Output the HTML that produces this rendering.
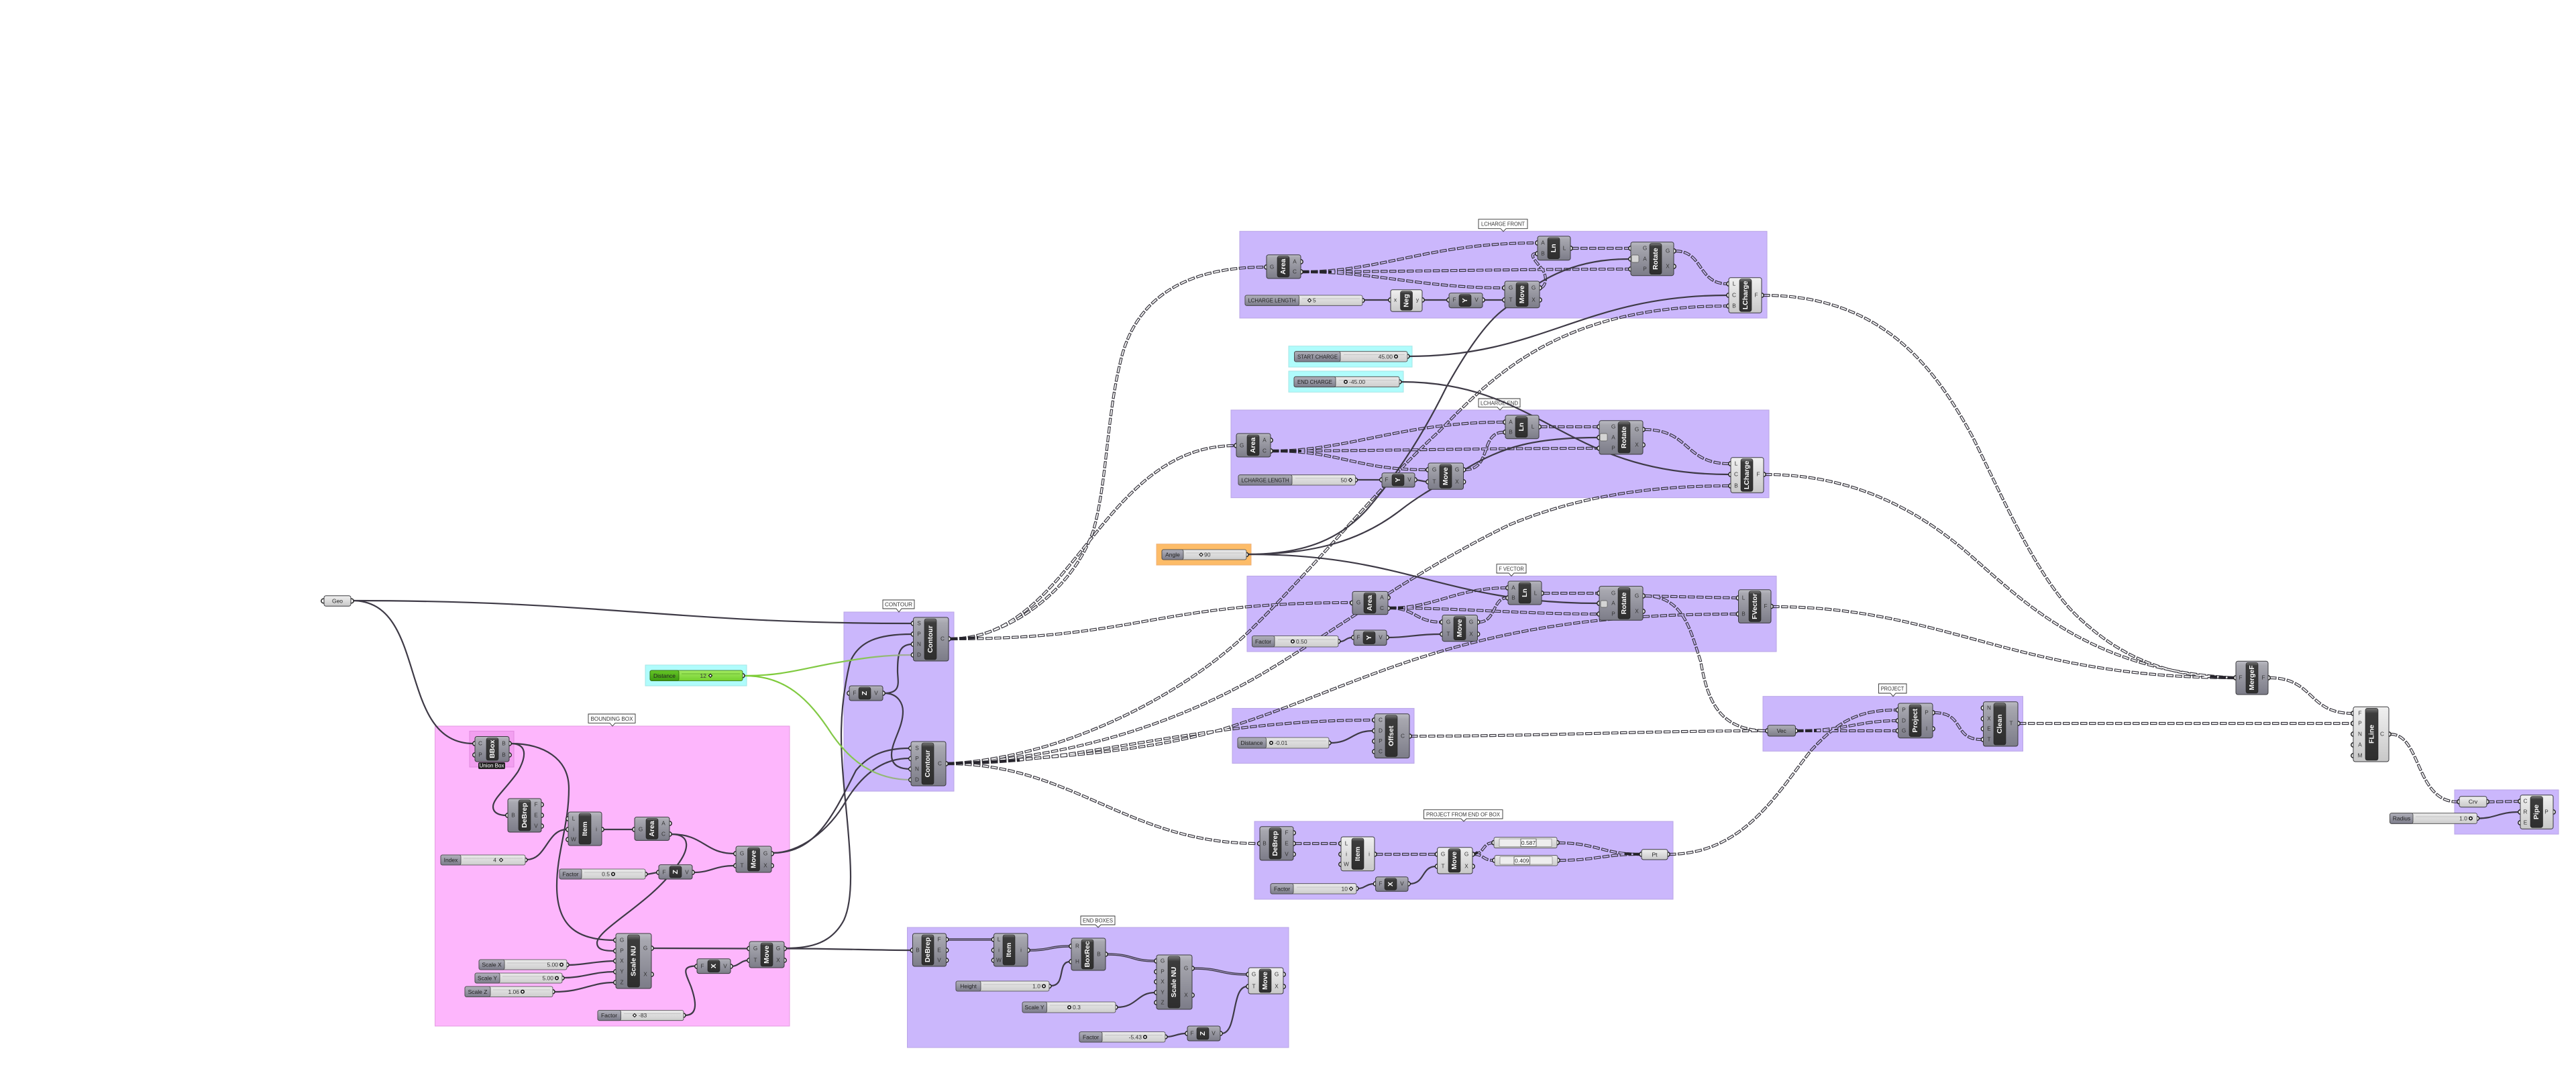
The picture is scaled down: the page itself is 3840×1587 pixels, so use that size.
<!DOCTYPE html>
<html><head><meta charset="utf-8"><title>Grasshopper definition</title>
<style>
html,body{margin:0;padding:0;background:#fff}
svg{display:block}
text{font-family:"Liberation Sans",sans-serif}
.pu{fill:#cbb7fc;stroke:#b9a5e6;stroke-width:1}
.pk{fill:#fdb6fc;stroke:#e39be0;stroke-width:1}
.pd{fill:#f29ff0;stroke:#e08ade;stroke-width:1}
.cy{fill:#b0fcfc;stroke:#a5e6e6;stroke-width:1}
.or{fill:#fdbc68;stroke:#eeb078;stroke-width:1}
.n{fill:url(#gn);stroke:#3a3a3e;stroke-width:1}
.nl{fill:url(#gl);stroke:#3a3a3e;stroke-width:1}
.c{fill:url(#gc);stroke:#222;stroke-width:.6}
.t{fill:#fff;font-size:10.5px;font-weight:700;text-anchor:middle;dominant-baseline:central}
.l{fill:#333;font-size:8.2px;text-anchor:middle;dominant-baseline:central}
.v{fill:#333;font-size:8.5px;dominant-baseline:central}
.vm{fill:#222;font-size:8.5px;text-anchor:middle;dominant-baseline:central}
.p{fill:#fff;stroke:#222;stroke-width:1.5}
.sb{fill:url(#gb);stroke:#444;stroke-width:.8}
.sl{fill:url(#gs);stroke:#444;stroke-width:.8}
.gb{fill:url(#gg);stroke:#2f6a10;stroke-width:.8}
.gl{fill:url(#gd);stroke:#2f6a10;stroke-width:.8}
.tk{stroke:#bbb;stroke-width:.7;fill:none}
.k{fill:#fff;stroke:#111;stroke-width:1.6}
.d{fill:#fff;stroke:#111;stroke-width:1.1}
.cb{fill:#fff;stroke:#333;stroke-width:.9}
.ct{fill:#333;font-size:8.5px;text-anchor:middle;dominant-baseline:central}
.ic{fill:#d4d4d4;stroke:#555;stroke-width:.7}
#tw path,#sw path,#lw path{fill:none}
</style></head><body>
<svg xmlns="http://www.w3.org/2000/svg" width="3840" height="1587" viewBox="0 0 3840 1587">
<defs>
<linearGradient id="gn" x1="0" y1="0" x2="0" y2="1"><stop offset="0" stop-color="#bcbcc4"/><stop offset=".12" stop-color="#a8a8b0"/><stop offset="1" stop-color="#7c7c88"/></linearGradient>
<linearGradient id="gl" x1="0" y1="0" x2="0" y2="1"><stop offset="0" stop-color="#f0f0f0"/><stop offset="1" stop-color="#c8c8c8"/></linearGradient>
<linearGradient id="gb" x1="0" y1="0" x2="0" y2="1"><stop offset="0" stop-color="#eaeaea"/><stop offset="1" stop-color="#cdcdcd"/></linearGradient>
<linearGradient id="gc" x1="0" y1="0" x2="0" y2="1"><stop offset="0" stop-color="#777"/><stop offset=".1" stop-color="#3c3c3c"/><stop offset="1" stop-color="#2e2e2e"/></linearGradient>
<linearGradient id="gs" x1="0" y1="0" x2="0" y2="1"><stop offset="0" stop-color="#b0b0ba"/><stop offset="1" stop-color="#7c7c8a"/></linearGradient>
<linearGradient id="gg" x1="0" y1="0" x2="0" y2="1"><stop offset="0" stop-color="#a2ea62"/><stop offset="1" stop-color="#74d02e"/></linearGradient>
<linearGradient id="gd" x1="0" y1="0" x2="0" y2="1"><stop offset="0" stop-color="#66c626"/><stop offset="1" stop-color="#3c9a10"/></linearGradient>
<linearGradient id="gw" gradientUnits="userSpaceOnUse" x1="1110" y1="0" x2="1358" y2="0"><stop offset="0" stop-color="#7ccc34"/><stop offset=".7" stop-color="#86c850"/><stop offset="1" stop-color="#a3a8a0"/></linearGradient>
<g id="tw">
<path d="M1417 952C1500 952 1600 880 1630 790C1650 720 1650 620 1670 540C1690 450 1760 398 1886 398"/>
<path d="M1417 952C1600 952 1640 664 1841 664"/>
<path d="M1417 952C1700 952 1720 898 2014 898"/>
<path d="M1412 1138C1580 1130 1760 1040 1865 938C1960 845 2060 720 2145 643C2230 555 2330 456 2575 456"/>
<path d="M1412 1138C1600 1130 1760 1075 1880 1005C1990 940 2110 850 2250 782C2340 745 2440 724 2577 724"/>
<path d="M1412 1138C1560 1130 1720 1120 1834 1083C1960 1043 2060 990 2210 954C2310 930 2420 915 2589 915"/>
<path d="M1412 1138C1620 1138 1780 1073 2047 1073"/>
<path d="M1412 1138C1600 1138 1680 1257 1876 1257"/>
<path d="M1941 405C2060 405 2130 362 2290 362"/>
<path d="M1941 405C2100 405 2250 401 2429 401"/>
<path d="M1941 405C2050 405 2120 429 2241 429"/>
<path d="M2297 429C2306 425 2306 410 2298 400C2285 385 2280 378 2290 378"/>
<path d="M2343 370L2429 370"/>
<path d="M2497 374C2540 374 2530 423 2575 423"/>
<path d="M1896 672C2010 672 2090 629 2242 629"/>
<path d="M1896 672C2050 672 2200 668 2382 668"/>
<path d="M1896 672C2000 672 2020 700 2127 700"/>
<path d="M2183 700C2225 700 2205 644 2242 644"/>
<path d="M2296 636L2382 636"/>
<path d="M2451 640C2520 640 2510 691 2578 691"/>
<path d="M2071 906C2140 906 2170 876 2246 876"/>
<path d="M2071 906C2180 906 2270 915 2382 915"/>
<path d="M2071 906C2110 906 2110 927 2148 927"/>
<path d="M2204 927C2230 927 2225 891 2246 891"/>
<path d="M2300 884L2382 884"/>
<path d="M2451 888L2589 891"/>
<path d="M2452 888C2510 888 2520 940 2535 985C2545 1040 2560 1089 2634 1089"/>
<path d="M2103 1097C2300 1097 2450 1089 2633 1089"/>
<path d="M1930 1257L1997 1257"/>
<path d="M2051 1273L2141 1273"/>
<path d="M2197 1273C2212 1273 2210 1256 2225 1256"/>
<path d="M2197 1273C2212 1273 2210 1282 2226 1282"/>
<path d="M2323 1256C2380 1256 2390 1273 2445 1273"/>
<path d="M2324 1282C2380 1282 2390 1273 2445 1273"/>
<path d="M2488 1273C2600 1273 2650 1180 2700 1118C2740 1075 2770 1058 2827 1058"/>
<path d="M2678 1089C2750 1089 2770 1074 2827 1074"/>
<path d="M2678 1089L2827 1089"/>
<path d="M2883 1062C2930 1062 2910 1102 2954 1102"/>
<path d="M3010 1078L3506 1078"/>
<path d="M2628 440C2800 440 2880 540 2940 650C2990 750 3040 870 3105 926C3170 985 3240 1009 3331 1010"/>
<path d="M2631 707C2750 707 2850 750 2940 830C3020 900 3120 1000 3331 1010"/>
<path d="M2642 904C2900 904 3000 1010 3331 1010"/>
<path d="M3383 1010C3450 1010 3440 1063 3506 1063"/>
<path d="M3563 1094C3610 1094 3600 1195 3664 1195"/>
<path d="M3708 1195L3755 1194"/>
</g>
<g id="lw">
<path d="M1412 1400L1480 1400"/>
<path d="M1534 1416C1565 1416 1565 1410 1595 1410"/>
<path d="M1650 1422C1690 1422 1685 1432 1722 1432"/>
<path d="M1779 1443C1820 1443 1820 1452 1859 1452"/>
</g>
<mask id="tm" maskUnits="userSpaceOnUse" x="0" y="0" width="3840" height="1587">
<rect width="3840" height="1587" fill="#fff"/>
<use href="#tw" stroke="#000" stroke-width="1.8" stroke-dasharray="8.2 4.8" stroke-dashoffset="-1.15"/>
</mask>
</defs>
<rect width="3840" height="1587" fill="#fff"/>

<!-- groups -->
<rect class="pk" x="648.5" y="1082" width="528.5" height="447"/>
<rect class="pd" x="700" y="1089.5" width="66" height="53.5"/>
<rect class="cy" x="962" y="991" width="151" height="31"/>
<rect class="pu" x="1258" y="912" width="164" height="267"/>
<rect class="pu" x="1352.5" y="1382" width="568.5" height="179"/>
<rect class="pu" x="1848" y="344.7" width="786" height="129.3"/>
<rect class="cy" x="1921" y="515.7" width="184" height="31.3"/>
<rect class="cy" x="1921" y="553" width="171" height="31.3"/>
<rect class="pu" x="1835" y="611" width="802" height="130.7"/>
<rect class="or" x="1724" y="810.7" width="141" height="31.3"/>
<rect class="pu" x="1859" y="858.4" width="789" height="112.6"/>
<rect class="pu" x="1837" y="1055.6" width="271" height="81.8"/>
<rect class="pu" x="1870" y="1224" width="624" height="116"/>
<rect class="pu" x="2628" y="1037.7" width="387.5" height="81.6"/>
<rect class="pu" x="3659" y="1177" width="155" height="66"/>

<!-- callouts -->
<g>
<path class="cb" d="M877 1064H947V1077.4H917L913 1082L909 1077.4H877Z"/><text class="ct" x="912" y="1071" textLength="63" lengthAdjust="spacingAndGlyphs">BOUNDING BOX</text>
<path class="cb" d="M1316 894H1363V907H1344L1340 912L1336 907H1316Z"/><text class="ct" x="1339.5" y="900.7" textLength="41" lengthAdjust="spacingAndGlyphs">CONTOUR</text>
<path class="cb" d="M1611 1365H1662V1378H1641L1637 1382L1633 1378H1611Z"/><text class="ct" x="1636.5" y="1371.7" textLength="45" lengthAdjust="spacingAndGlyphs">END BOXES</text>
<path class="cb" d="M2204 326.7H2277V340.7H2245L2241 345L2237 340.7H2204Z"/><text class="ct" x="2240.5" y="333.7" textLength="65" lengthAdjust="spacingAndGlyphs">LCHARGE FRONT</text>
<path class="cb" d="M2204 594H2266V606.7H2240L2236 611L2232 606.7H2204Z"/><text class="ct" x="2235" y="600.5" textLength="56" lengthAdjust="spacingAndGlyphs">LCHARGE END</text>
<path class="cb" d="M2231 840.7H2275V854H2257L2253 858.4L2249 854H2231Z"/><text class="ct" x="2253" y="847.4" textLength="37.5" lengthAdjust="spacingAndGlyphs">F VECTOR</text>
<path class="cb" d="M2122.5 1206.7H2240V1220H2186L2182 1224L2178 1220H2122.5Z"/><text class="ct" x="2181" y="1213.5" textLength="110" lengthAdjust="spacingAndGlyphs">PROJECT FROM END OF BOX</text>
<path class="cb" d="M2800.5 1019H2842V1033H2826L2822 1037.7L2818 1033H2800.5Z"/><text class="ct" x="2821" y="1026" textLength="34.5" lengthAdjust="spacingAndGlyphs">PROJECT</text>
</g>

<!-- wires -->
<g fill="none" stroke="#3e3a46" stroke-width="2.2" stroke-linecap="round">
<path d="M525 895C900 895 1000 929 1359 929"/>
<path d="M525 895C640 895 590 1108 706 1108"/>
<path d="M761 1108C785 1108 786 1125 772 1150C755 1175 735 1190 735 1202C735 1212 745 1215 755 1215"/>
<path d="M761 1108C810 1108 848 1130 848 1175C848 1230 830 1270 830 1320C830 1380 860 1401 916 1401"/>
<path d="M785 1281C815 1281 815 1236 845 1236"/>
<path d="M899 1236L944 1236"/>
<path d="M1000 1243C1050 1243 1050 1272 1095 1272"/>
<path d="M1000 1243C1030 1243 1030 1265 1005 1295C970 1345 890 1385 890 1405C890 1415 900 1417 916 1417"/>
<path d="M964 1303L980 1300"/>
<path d="M1034 1300C1060 1300 1065 1290 1095 1290"/>
<path d="M973 1413L1115 1413.5"/>
<path d="M847 1438C870 1438 890 1432 916 1432"/>
<path d="M840 1457C870 1457 885 1448 916 1448"/>
<path d="M826 1478C870 1478 880 1464 916 1464"/>
<path d="M1021 1513C1042 1513 1037 1490 1030 1470C1022 1450 1015 1440 1037 1439.5"/>
<path d="M1091 1440C1100 1440 1105 1431 1115 1431"/>
<path d="M1152 1271C1215 1271 1240 1219 1276 1148C1295 1125 1320 1115 1355 1115"/>
<path d="M1152 1271C1190 1271 1235 1240 1262 1192C1285 1155 1315 1130 1355 1130"/>
<path d="M1171 1413C1210 1413 1240 1405 1258 1371C1272 1340 1270 1290 1260 1192C1252 1110 1250 1060 1267 987C1280 955 1310 945 1359 945"/>
<path d="M1171 1413.5C1250 1413.5 1300 1416 1358 1416"/>
<path d="M1318 1033C1345 1033 1338 1015 1338 1000C1338 975 1340 960 1360 960"/>
<path d="M1318 1033C1340 1033 1346 1050 1346 1060C1346 1085 1329 1105 1329 1125C1329 1140 1340 1146 1358 1146"/>
<path d="M1566 1469C1590 1469 1575 1433 1595 1433"/>
<path d="M1665 1501C1695 1501 1695 1479 1722 1479"/>
<path d="M1739 1545C1750 1545 1755 1540 1768 1540"/>
<path d="M1821 1540C1845 1540 1835 1470 1859 1470"/>
<path d="M2033 447L2071 447"/>
<path d="M2122 447L2158 447"/>
<path d="M2212 447L2241 447"/>
<path d="M2022 715L2058 715"/>
<path d="M2111 715L2127 718"/>
<path d="M1860 826C1950 826 2000 800 2037 760C2085 705 2125 640 2156 577C2185 525 2215 480 2243 460C2290 420 2340 386 2427 386"/>
<path d="M1860 826C1960 826 2030 805 2088 760C2120 735 2150 720 2183 700C2240 665 2290 652 2382 652"/>
<path d="M1860 826C2100 826 2150 899 2382 899"/>
<path d="M2100 531C2300 531 2360 440 2575 440"/>
<path d="M2088 569C2300 569 2330 707 2578 707"/>
<path d="M1997 956C2006 956 2006 950 2016 950"/>
<path d="M2069 950C2100 950 2110 945 2148 945"/>
<path d="M1983 1107C2015 1107 2015 1089 2047 1089"/>
<path d="M2024 1324C2035 1324 2036 1317 2049 1317"/>
<path d="M2101 1317C2125 1317 2118 1291 2141 1291"/>
<path d="M3694 1219.5C3720 1219.5 3725 1210 3755 1210"/>
</g>
<g fill="none" stroke="url(#gw)" stroke-width="2.2">
<path d="M1110 1007C1170 1007 1200 995 1250 987C1290 980 1320 976 1358 976"/>
<path d="M1110 1007C1170 1007 1205 1040 1240 1094C1265 1130 1300 1162 1358 1162"/>
</g>
<use href="#lw" stroke="#3e3a46" stroke-width="3.6"/>
<use href="#lw" stroke="#a797cc" stroke-width="1.1"/>
<g mask="url(#tm)"><use href="#tw" stroke="#3a3840" stroke-width="4.2" stroke-dasharray="10.5 2.5"/></g>
<!-- bundled starts of overlapping tree wires -->
<g fill="none" stroke="#26242c" stroke-width="4" stroke-dasharray="10.5 2.5">
<path d="M1417 952L1458 950"/>
<path d="M1412 1138L1520 1133"/>
<path d="M1941 405L1985 405"/>
<path d="M1896 672L1940 672"/>
<path d="M2071 906L2092 906"/>
<path d="M3331 1010L3292 1008"/>
<path d="M2678 1089L2708 1089"/>
<path d="M2197 1273L2203 1270"/>
<path d="M2445 1273L2420 1272"/>
</g>

<!-- ports -->
<g class="ports">
<g fill="#fff" stroke="#222" stroke-width="1.5">
<circle cx="482" cy="895.5" r="3.2"/><circle cx="524" cy="895.5" r="3.2"/>
<circle cx="708" cy="1108" r="3.2"/><circle cx="708" cy="1125" r="3.2"/><circle cx="759" cy="1108" r="3.2"/><circle cx="759" cy="1125" r="3.2"/>
<circle cx="757" cy="1215" r="3.2"/><circle cx="807" cy="1199" r="3.2"/><circle cx="807" cy="1215" r="3.2"/><circle cx="807" cy="1231" r="3.2"/>
<circle cx="847" cy="1220" r="3.2"/><circle cx="847" cy="1236" r="3.2"/><circle cx="847" cy="1251" r="3.2"/><circle cx="897" cy="1236" r="3.2"/>
<circle cx="946" cy="1236" r="3.2"/><circle cx="998" cy="1227" r="3.2"/><circle cx="998" cy="1243" r="3.2"/>
<circle cx="1097" cy="1272" r="3.2"/><circle cx="1097" cy="1290" r="3.2"/><circle cx="1150" cy="1272" r="3.2"/><circle cx="1150" cy="1290" r="3.2"/>
<circle cx="982" cy="1300" r="3.2"/><circle cx="1032" cy="1300" r="3.2"/>
<circle cx="918" cy="1401" r="3.2"/><circle cx="918" cy="1417" r="3.2"/><circle cx="918" cy="1432" r="3.2"/><circle cx="918" cy="1448" r="3.2"/><circle cx="918" cy="1464" r="3.2"/><circle cx="971" cy="1413" r="3.2"/><circle cx="971" cy="1452" r="3.2"/>
<circle cx="1117" cy="1413.5" r="3.2"/><circle cx="1117" cy="1431" r="3.2"/><circle cx="1169" cy="1413.5" r="3.2"/><circle cx="1169" cy="1431" r="3.2"/>
<circle cx="1039" cy="1440" r="3.2"/><circle cx="1089" cy="1440" r="3.2"/>
<circle cx="783" cy="1281.5" r="3"/><circle cx="962" cy="1302.6" r="3"/><circle cx="845" cy="1437.7" r="3"/><circle cx="838" cy="1457.4" r="3"/><circle cx="824" cy="1477.8" r="3"/><circle cx="1019" cy="1513" r="3"/><circle cx="1107" cy="1006.8" r="3"/>
<circle cx="1361.5" cy="929" r="3.2"/><circle cx="1361.5" cy="945" r="3.2"/><circle cx="1361.5" cy="960" r="3.2"/><circle cx="1361.5" cy="976" r="3.2"/><circle cx="1414" cy="952" r="3.2"/>
<circle cx="1266" cy="1033" r="3.2"/><circle cx="1316" cy="1033" r="3.2"/>
<circle cx="1358" cy="1115" r="3.2"/><circle cx="1358" cy="1130.5" r="3.2"/><circle cx="1358" cy="1146" r="3.2"/><circle cx="1358" cy="1162" r="3.2"/><circle cx="1410" cy="1138" r="3.2"/>
<circle cx="1360.5" cy="1416" r="3.2"/><circle cx="1410.5" cy="1400" r="3.2"/><circle cx="1410.5" cy="1416" r="3.2"/><circle cx="1410.5" cy="1431" r="3.2"/>
<circle cx="1481.5" cy="1400" r="3.2"/><circle cx="1481.5" cy="1416" r="3.2"/><circle cx="1481.5" cy="1431" r="3.2"/><circle cx="1532" cy="1416" r="3.2"/>
<circle cx="1597" cy="1410" r="3.2"/><circle cx="1597" cy="1433" r="3.2"/><circle cx="1648" cy="1422" r="3.2"/>
<circle cx="1724" cy="1432" r="3.2"/><circle cx="1724" cy="1448" r="3.2"/><circle cx="1724" cy="1463" r="3.2"/><circle cx="1724" cy="1479" r="3.2"/><circle cx="1724" cy="1494" r="3.2"/><circle cx="1777" cy="1443" r="3.2"/><circle cx="1777" cy="1483" r="3.2"/>
<circle cx="1861" cy="1452" r="3.2"/><circle cx="1861" cy="1470" r="3.2"/><circle cx="1913" cy="1452" r="3.2"/><circle cx="1913" cy="1470" r="3.2"/>
<circle cx="1770" cy="1540" r="3.2"/><circle cx="1819" cy="1540" r="3.2"/>
<circle cx="1564" cy="1469.5" r="3"/><circle cx="1663" cy="1501" r="3"/><circle cx="1737" cy="1545" r="3"/>
<circle cx="1888" cy="398" r="3.2"/><circle cx="1939" cy="390" r="3.2"/><circle cx="1939" cy="405" r="3.2"/>
<circle cx="2292" cy="362" r="3.2"/><circle cx="2292" cy="378" r="3.2"/><circle cx="2341" cy="370" r="3.2"/>
<circle cx="2431" cy="370" r="3.2"/><circle cx="2431" cy="386" r="3.2"/><circle cx="2431" cy="401" r="3.2"/><circle cx="2495" cy="374" r="3.2"/><circle cx="2495" cy="397" r="3.2"/>
<circle cx="2243" cy="429" r="3.2"/><circle cx="2243" cy="447" r="3.2"/><circle cx="2295" cy="429" r="3.2"/><circle cx="2295" cy="447" r="3.2"/>
<circle cx="2073" cy="447" r="3.2"/><circle cx="2120" cy="447" r="3.2"/><circle cx="2160" cy="447" r="3.2"/><circle cx="2210" cy="447" r="3.2"/>
<circle cx="2577" cy="423" r="3.2"/><circle cx="2577" cy="440" r="3.2"/><circle cx="2577" cy="456" r="3.2"/><circle cx="2626" cy="440" r="3.2"/>
<circle cx="2031" cy="447.6" r="3"/><circle cx="2098" cy="531" r="3"/><circle cx="2086" cy="569" r="3"/>
<circle cx="1843" cy="664" r="3.2"/><circle cx="1894" cy="656" r="3.2"/><circle cx="1894" cy="672" r="3.2"/>
<circle cx="2244" cy="629" r="3.2"/><circle cx="2244" cy="644" r="3.2"/><circle cx="2294" cy="636" r="3.2"/>
<circle cx="2384" cy="636" r="3.2"/><circle cx="2384" cy="652" r="3.2"/><circle cx="2384" cy="668" r="3.2"/><circle cx="2449" cy="640" r="3.2"/><circle cx="2449" cy="663" r="3.2"/>
<circle cx="2129" cy="700" r="3.2"/><circle cx="2129" cy="718" r="3.2"/><circle cx="2181.5" cy="700" r="3.2"/><circle cx="2181.5" cy="718" r="3.2"/>
<circle cx="2060" cy="715" r="3.2"/><circle cx="2109" cy="715" r="3.2"/>
<circle cx="2580" cy="691" r="3.2"/><circle cx="2580" cy="707" r="3.2"/><circle cx="2580" cy="724" r="3.2"/><circle cx="2629" cy="707" r="3.2"/>
<circle cx="2020.5" cy="715.3" r="3"/><circle cx="1858" cy="826.5" r="3"/>
<circle cx="2016" cy="898.4" r="3.2"/><circle cx="2069" cy="890.6" r="3.2"/><circle cx="2069" cy="906.5" r="3.2"/>
<circle cx="2248" cy="876" r="3.2"/><circle cx="2248" cy="891" r="3.2"/><circle cx="2298" cy="884" r="3.2"/>
<circle cx="2384" cy="884" r="3.2"/><circle cx="2384" cy="899" r="3.2"/><circle cx="2384" cy="915" r="3.2"/><circle cx="2449" cy="888" r="3.2"/><circle cx="2449" cy="911" r="3.2"/>
<circle cx="2150" cy="927" r="3.2"/><circle cx="2150" cy="945" r="3.2"/><circle cx="2202.5" cy="927" r="3.2"/><circle cx="2202.5" cy="945" r="3.2"/>
<circle cx="2018" cy="950" r="3.2"/><circle cx="2067" cy="950" r="3.2"/>
<circle cx="2591.5" cy="891" r="3.2"/><circle cx="2591.5" cy="915" r="3.2"/><circle cx="2640" cy="903.6" r="3.2"/>
<circle cx="1995" cy="955.7" r="3"/><circle cx="1981" cy="1107" r="3"/><circle cx="2022" cy="1324" r="3"/><circle cx="3692.6" cy="1219.5" r="3"/>
<circle cx="2049" cy="1073" r="3.2"/><circle cx="2049" cy="1089" r="3.2"/><circle cx="2049" cy="1104.5" r="3.2"/><circle cx="2049" cy="1120" r="3.2"/><circle cx="2101" cy="1097" r="3.2"/>
<circle cx="1878" cy="1257" r="3.2"/><circle cx="1928" cy="1241" r="3.2"/><circle cx="1928" cy="1257" r="3.2"/><circle cx="1928" cy="1273" r="3.2"/>
<circle cx="1999" cy="1257" r="3.2"/><circle cx="1999" cy="1273" r="3.2"/><circle cx="1999" cy="1288" r="3.2"/><circle cx="2049" cy="1273" r="3.2"/>
<circle cx="2142.6" cy="1273" r="3.2"/><circle cx="2142.6" cy="1291" r="3.2"/><circle cx="2195" cy="1273" r="3.2"/><circle cx="2195" cy="1291" r="3.2"/>
<circle cx="2050.6" cy="1317" r="3.2"/><circle cx="2099" cy="1317" r="3.2"/>
<circle cx="2227" cy="1255.7" r="3.2"/><circle cx="2321" cy="1255.7" r="3.2"/><circle cx="2228" cy="1282" r="3.2"/><circle cx="2322" cy="1282" r="3.2"/>
<circle cx="2447" cy="1273" r="3.2"/><circle cx="2486" cy="1273" r="3.2"/>
<circle cx="2635" cy="1089" r="3.2"/><circle cx="2676.5" cy="1089" r="3.2"/>
<circle cx="2829.5" cy="1058" r="3.2"/><circle cx="2829.5" cy="1074" r="3.2"/><circle cx="2829.5" cy="1089" r="3.2"/><circle cx="2881" cy="1062" r="3.2"/><circle cx="2881" cy="1086" r="3.2"/>
<circle cx="2956.5" cy="1055" r="3.2"/><circle cx="2956.5" cy="1071" r="3.2"/><circle cx="2956.5" cy="1086" r="3.2"/><circle cx="2956.5" cy="1102" r="3.2"/><circle cx="3008" cy="1078" r="3.2"/>
<circle cx="3333" cy="1010" r="3.2"/><circle cx="3381" cy="1010" r="3.2"/>
<circle cx="3508" cy="1063" r="3.2"/><circle cx="3508" cy="1078" r="3.2"/><circle cx="3508" cy="1094" r="3.2"/><circle cx="3508" cy="1110" r="3.2"/><circle cx="3508" cy="1126" r="3.2"/><circle cx="3561" cy="1094" r="3.2"/>
<circle cx="3666" cy="1194.7" r="3.2"/><circle cx="3707" cy="1194.7" r="3.2"/>
<circle cx="3757" cy="1194" r="3.2"/><circle cx="3757" cy="1210" r="3.2"/><circle cx="3757" cy="1226" r="3.2"/><circle cx="3806" cy="1210" r="3.2"/>
</g>
</g>

<!-- params -->
<rect class="nl" x="483" y="887.7" width="40" height="15.6" rx="3"/><text class="vm" x="503" y="895.5">Geo</text>
<rect class="n" x="2635" y="1080.7" width="41.5" height="16.3" rx="3"/><text class="vm" x="2655.7" y="1089">Vec</text>
<rect class="nl" x="2447" y="1265.7" width="39" height="15.3" rx="3"/><text class="vm" x="2466.5" y="1273.3">Pt</text>
<rect class="nl" x="3666" y="1186.7" width="41" height="16" rx="3"/><text class="vm" x="3686.5" y="1194.7">Crv</text>

<!-- components -->
<g id="nodes">
<rect class="n" x="708" y="1097.5" width="51" height="37.5" rx="3"/><rect class="c" x="725" y="1099.5" width="18" height="33.5" rx="3"/><text class="t" transform="translate(734 1116.2) rotate(-90)">BBox</text><text class="l" x="716" y="1108">C</text><text class="l" x="716" y="1125">P</text><text class="l" x="751" y="1108">B</text><text class="l" x="751" y="1125">B</text>
<rect x="713" y="1136" width="40" height="10" rx="2" fill="#222"/><text x="733" y="1141" fill="#fff" font-size="8" text-anchor="middle" dominant-baseline="central">Union Box</text>

<rect class="n" x="757" y="1190" width="50" height="50" rx="3"/><rect class="c" x="773" y="1192" width="18" height="46" rx="3"/><text class="t" transform="translate(782 1215) rotate(-90)">DeBrep</text><text class="l" x="765" y="1215">B</text><text class="l" x="799" y="1199">F</text><text class="l" x="799" y="1215">E</text><text class="l" x="799" y="1231">V</text>

<rect class="n" x="847" y="1210" width="50" height="50" rx="3"/><rect class="c" x="863" y="1212" width="18" height="46" rx="3"/><text class="t" transform="translate(872 1235) rotate(-90)">Item</text><text class="l" x="855" y="1220">L</text><text class="l" x="855" y="1236">i</text><text class="l" x="855" y="1251">W</text><text class="l" x="889" y="1236">i</text>

<rect class="n" x="946" y="1217.6" width="52" height="34.8" rx="3"/><rect class="c" x="963" y="1219.6" width="18" height="30.8" rx="3"/><text class="t" transform="translate(972 1235) rotate(-90)">Area</text><text class="l" x="955" y="1236">G</text><text class="l" x="989" y="1227">A</text><text class="l" x="989" y="1243">C</text>

<rect class="n" x="1097" y="1261" width="53" height="39" rx="3"/><rect class="c" x="1114.5" y="1263" width="18" height="35" rx="3"/><text class="t" transform="translate(1123.5 1280.5) rotate(-90)">Move</text><text class="l" x="1106" y="1272">G</text><text class="l" x="1106" y="1290">T</text><text class="l" x="1141" y="1272">G</text><text class="l" x="1141" y="1290">X</text>

<rect class="n" x="982" y="1288.6" width="50" height="21.4" rx="3"/><rect class="c" x="998" y="1290.6" width="18" height="17.4" rx="3"/><text class="t" transform="translate(1007 1299.3) rotate(-90)">Z</text><text class="l" x="990" y="1300">F</text><text class="l" x="1024" y="1300">V</text>

<rect class="n" x="918" y="1391" width="53" height="82" rx="3"/><rect class="c" x="935.5" y="1393" width="18" height="78" rx="3"/><text class="t" transform="translate(944.5 1432) rotate(-90)">Scale NU</text><text class="l" x="927" y="1401">G</text><text class="l" x="927" y="1417">P</text><text class="l" x="927" y="1432">X</text><text class="l" x="927" y="1448">Y</text><text class="l" x="927" y="1464">Z</text><text class="l" x="962" y="1413">G</text><text class="l" x="962" y="1452">X</text>

<rect class="n" x="1117" y="1403" width="52" height="39" rx="3"/><rect class="c" x="1134" y="1405" width="18" height="35" rx="3"/><text class="t" transform="translate(1143 1422.5) rotate(-90)">Move</text><text class="l" x="1126" y="1413.5">G</text><text class="l" x="1126" y="1431">T</text><text class="l" x="1160" y="1413.5">G</text><text class="l" x="1160" y="1431">X</text>

<rect class="n" x="1039" y="1428.7" width="50" height="21.9" rx="3"/><rect class="c" x="1055" y="1430.7" width="18" height="17.9" rx="3"/><text class="t" transform="translate(1064 1439.6) rotate(-90)">X</text><text class="l" x="1047" y="1440">F</text><text class="l" x="1081" y="1440">V</text>

<rect class="n" x="1361.5" y="920" width="52.5" height="65" rx="3"/><rect class="c" x="1378" y="922" width="18" height="61" rx="3"/><text class="t" transform="translate(1387 952.5) rotate(-90)">Contour</text><text class="l" x="1370" y="929">S</text><text class="l" x="1370" y="945">P</text><text class="l" x="1370" y="960">N</text><text class="l" x="1370" y="976">D</text><text class="l" x="1405" y="952">C</text>

<rect class="n" x="1266" y="1022" width="50" height="22" rx="3"/><rect class="c" x="1280" y="1024" width="18" height="18" rx="3"/><text class="t" transform="translate(1289 1033) rotate(-90)">Z</text><text class="l" x="1274" y="1033">F</text><text class="l" x="1306" y="1033">V</text>

<rect class="n" x="1358" y="1105" width="52" height="66" rx="3"/><rect class="c" x="1374" y="1107" width="18" height="62" rx="3"/><text class="t" transform="translate(1383 1138) rotate(-90)">Contour</text><text class="l" x="1367" y="1115">S</text><text class="l" x="1367" y="1130.5">P</text><text class="l" x="1367" y="1146">N</text><text class="l" x="1367" y="1162">D</text><text class="l" x="1401" y="1138">C</text>

<rect class="n" x="1360.5" y="1391" width="50" height="49" rx="3"/><rect class="c" x="1374" y="1393" width="18" height="45" rx="3"/><text class="t" transform="translate(1383 1415.5) rotate(-90)">DeBrep</text><text class="l" x="1368" y="1416">B</text><text class="l" x="1400" y="1400">F</text><text class="l" x="1400" y="1416">E</text><text class="l" x="1400" y="1431">V</text>

<rect class="n" x="1481.5" y="1391" width="50.5" height="49" rx="3"/><rect class="c" x="1495" y="1393" width="18" height="45" rx="3"/><text class="t" transform="translate(1504 1415.5) rotate(-90)">Item</text><text class="l" x="1489" y="1400">L</text><text class="l" x="1489" y="1416">i</text><text class="l" x="1489" y="1431">W</text><text class="l" x="1522" y="1416">i</text>

<rect class="n" x="1597" y="1398" width="51" height="48" rx="3"/><rect class="c" x="1612" y="1400" width="18" height="44" rx="3"/><text class="t" transform="translate(1621 1422) rotate(-90)">BoxRec</text><text class="l" x="1606" y="1410">R</text><text class="l" x="1606" y="1433">H</text><text class="l" x="1638" y="1422">B</text>

<rect class="n" x="1724" y="1423" width="53" height="81" rx="3"/><rect class="c" x="1741" y="1425" width="18" height="77" rx="3"/><text class="t" transform="translate(1750 1463.5) rotate(-90)">Scale NU</text><text class="l" x="1733" y="1432">G</text><text class="l" x="1733" y="1448">P</text><text class="l" x="1733" y="1463">X</text><text class="l" x="1733" y="1479">Y</text><text class="l" x="1733" y="1494">Z</text><text class="l" x="1768" y="1443">G</text><text class="l" x="1768" y="1483">X</text>

<rect class="nl" x="1861" y="1442" width="52" height="39" rx="3"/><rect class="c" x="1877" y="1444" width="18" height="35" rx="3"/><text class="t" transform="translate(1886 1461.5) rotate(-90)">Move</text><text class="l" x="1869" y="1452">G</text><text class="l" x="1869" y="1470">T</text><text class="l" x="1903" y="1452">G</text><text class="l" x="1903" y="1470">X</text>

<rect class="n" x="1770" y="1529" width="49" height="22" rx="3"/><rect class="c" x="1784" y="1531" width="18" height="18" rx="3"/><text class="t" transform="translate(1793 1540) rotate(-90)">Z</text><text class="l" x="1777" y="1540">F</text><text class="l" x="1809" y="1540">V</text>

<rect class="n" x="1888" y="379.7" width="51" height="35.3" rx="3"/><rect class="c" x="1904" y="381.7" width="18" height="31.3" rx="3"/><text class="t" transform="translate(1913 397.3) rotate(-90)">Area</text><text class="l" x="1896" y="398">G</text><text class="l" x="1930" y="390">A</text><text class="l" x="1930" y="405">C</text>

<rect class="n" x="2292" y="352" width="49" height="35.7" rx="3"/><rect class="c" x="2307" y="354" width="18" height="31.7" rx="3"/><text class="t" transform="translate(2316 369.8) rotate(-90)">Ln</text><text class="l" x="2300" y="362">A</text><text class="l" x="2300" y="378">B</text><text class="l" x="2332" y="370">L</text>

<rect class="n" x="2431" y="360.7" width="64" height="50" rx="3"/><rect class="c" x="2459" y="362.7" width="18" height="46" rx="3"/><text class="t" transform="translate(2468 385.7) rotate(-90)">Rotate</text><rect class="ic" x="2432" y="380" width="11" height="11" rx="2"/><text class="l" x="2452" y="370">G</text><text class="l" x="2452" y="386">A</text><text class="l" x="2452" y="401">P</text><text class="l" x="2486" y="374">G</text><text class="l" x="2486" y="397">X</text>

<rect class="n" x="2243" y="419" width="52" height="39.7" rx="3"/><rect class="c" x="2260" y="421" width="18" height="35.7" rx="3"/><text class="t" transform="translate(2269 438.8) rotate(-90)">Move</text><text class="l" x="2252" y="429">G</text><text class="l" x="2252" y="447">T</text><text class="l" x="2286" y="429">G</text><text class="l" x="2286" y="447">X</text>

<rect class="nl" x="2073" y="431.7" width="47" height="32.6" rx="3"/><rect class="c" x="2087.5" y="433.7" width="18" height="28.6" rx="3"/><text class="t" transform="translate(2096.5 448) rotate(-90)">Neg</text><text class="l" x="2080" y="447">x</text><text class="l" x="2113" y="447">y</text>

<rect class="n" x="2160" y="436.7" width="50" height="22" rx="3"/><rect class="c" x="2175" y="438.7" width="18" height="18" rx="3"/><text class="t" transform="translate(2184 447.7) rotate(-90)">Y</text><text class="l" x="2168" y="447">F</text><text class="l" x="2201" y="447">V</text>

<rect class="nl" x="2577" y="413.7" width="49" height="52.6" rx="3"/><rect class="c" x="2593" y="415.7" width="18" height="48.6" rx="3"/><text class="t" transform="translate(2602 440) rotate(-90)">LCharge</text><text class="l" x="2585" y="423">L</text><text class="l" x="2585" y="440">C</text><text class="l" x="2585" y="456">B</text><text class="l" x="2618" y="440">F</text>

<rect class="n" x="1843" y="646" width="51" height="35" rx="3"/><rect class="c" x="1859" y="648" width="18" height="31" rx="3"/><text class="t" transform="translate(1868 663.5) rotate(-90)">Area</text><text class="l" x="1851" y="664">G</text><text class="l" x="1885" y="656">A</text><text class="l" x="1885" y="672">C</text>

<rect class="n" x="2244" y="618.7" width="50" height="35" rx="3"/><rect class="c" x="2259" y="620.7" width="18" height="31" rx="3"/><text class="t" transform="translate(2268 636.2) rotate(-90)">Ln</text><text class="l" x="2252" y="629">A</text><text class="l" x="2252" y="644">B</text><text class="l" x="2285" y="636">L</text>

<rect class="n" x="2384" y="626.7" width="65" height="50.3" rx="3"/><rect class="c" x="2412" y="628.7" width="18" height="46.3" rx="3"/><text class="t" transform="translate(2421 651.8) rotate(-90)">Rotate</text><rect class="ic" x="2385" y="646" width="11" height="11" rx="2"/><text class="l" x="2405" y="636">G</text><text class="l" x="2405" y="652">A</text><text class="l" x="2405" y="668">P</text><text class="l" x="2440" y="640">G</text><text class="l" x="2440" y="663">X</text>

<rect class="n" x="2129" y="690" width="52.5" height="39.3" rx="3"/><rect class="c" x="2146" y="692" width="18" height="35.3" rx="3"/><text class="t" transform="translate(2155 709.7) rotate(-90)">Move</text><text class="l" x="2138" y="700">G</text><text class="l" x="2138" y="718">T</text><text class="l" x="2172" y="700">G</text><text class="l" x="2172" y="718">X</text>

<rect class="n" x="2060" y="704.7" width="49" height="21.3" rx="3"/><rect class="c" x="2075" y="706.7" width="18" height="17.3" rx="3"/><text class="t" transform="translate(2084 715.3) rotate(-90)">Y</text><text class="l" x="2067" y="715">F</text><text class="l" x="2101" y="715">V</text>

<rect class="nl" x="2580" y="681.7" width="49" height="52.6" rx="3"/><rect class="c" x="2595" y="683.7" width="18" height="48.6" rx="3"/><text class="t" transform="translate(2604 708) rotate(-90)">LCharge</text><text class="l" x="2588" y="691">L</text><text class="l" x="2588" y="707">C</text><text class="l" x="2588" y="724">B</text><text class="l" x="2621" y="707">F</text>

<rect class="n" x="2016" y="881.4" width="53" height="34.4" rx="3"/><rect class="c" x="2033" y="883.4" width="18" height="30.4" rx="3"/><text class="t" transform="translate(2042 898.6) rotate(-90)">Area</text><text class="l" x="2025" y="898">G</text><text class="l" x="2060" y="890.6">A</text><text class="l" x="2060" y="906.5">C</text>

<rect class="n" x="2248" y="866" width="50" height="35" rx="3"/><rect class="c" x="2264" y="868" width="18" height="31" rx="3"/><text class="t" transform="translate(2273 883.5) rotate(-90)">Ln</text><text class="l" x="2256" y="876">A</text><text class="l" x="2256" y="891">B</text><text class="l" x="2289" y="884">L</text>

<rect class="n" x="2384" y="873.6" width="65" height="50.7" rx="3"/><rect class="c" x="2412" y="875.6" width="18" height="46.7" rx="3"/><text class="t" transform="translate(2421 899) rotate(-90)">Rotate</text><rect class="ic" x="2386" y="895" width="10" height="10" rx="2"/><text class="l" x="2405" y="884">G</text><text class="l" x="2405" y="899">A</text><text class="l" x="2405" y="915">P</text><text class="l" x="2440" y="888">G</text><text class="l" x="2440" y="911">X</text>

<rect class="n" x="2150" y="916.5" width="52.5" height="39.2" rx="3"/><rect class="c" x="2167" y="918.5" width="18" height="35.2" rx="3"/><text class="t" transform="translate(2176 936) rotate(-90)">Move</text><text class="l" x="2159" y="927">G</text><text class="l" x="2159" y="945">T</text><text class="l" x="2193" y="927">G</text><text class="l" x="2193" y="945">X</text>

<rect class="n" x="2018" y="939" width="49" height="22.6" rx="3"/><rect class="c" x="2032" y="941" width="18" height="18.6" rx="3"/><text class="t" transform="translate(2041 950.3) rotate(-90)">Y</text><text class="l" x="2025" y="950">F</text><text class="l" x="2058" y="950">V</text>

<rect class="n" x="2591.5" y="878.8" width="48.5" height="49.6" rx="3"/><rect class="c" x="2607" y="880.8" width="18" height="45.6" rx="3"/><text class="t" transform="translate(2616 903.6) rotate(-90)">FVector</text><text class="l" x="2599" y="891">L</text><text class="l" x="2599" y="915">B</text><text class="l" x="2632" y="903.6">F</text>

<rect class="n" x="2049" y="1063.8" width="52" height="65.8" rx="3"/><rect class="c" x="2065" y="1065.8" width="18" height="61.8" rx="3"/><text class="t" transform="translate(2074 1096.7) rotate(-90)">Offset</text><text class="l" x="2058" y="1073">C</text><text class="l" x="2058" y="1089">D</text><text class="l" x="2058" y="1104.5">P</text><text class="l" x="2058" y="1120">C</text><text class="l" x="2091" y="1097">C</text>

<rect class="n" x="1878" y="1231.7" width="50" height="50.3" rx="3"/><rect class="c" x="1892" y="1233.7" width="18" height="46.3" rx="3"/><text class="t" transform="translate(1901 1257) rotate(-90)">DeBrep</text><text class="l" x="1885" y="1257">B</text><text class="l" x="1918" y="1241">F</text><text class="l" x="1918" y="1257">E</text><text class="l" x="1918" y="1273">V</text>

<rect class="nl" x="1999" y="1247" width="50" height="50.7" rx="3"/><rect class="c" x="2015" y="1249" width="18" height="46.7" rx="3"/><text class="t" transform="translate(2024 1272.3) rotate(-90)">Item</text><text class="l" x="2007" y="1257">L</text><text class="l" x="2007" y="1273">i</text><text class="l" x="2007" y="1288">W</text><text class="l" x="2041" y="1273">i</text>

<rect class="nl" x="2142.6" y="1262.7" width="52.4" height="39.3" rx="3"/><rect class="c" x="2159" y="1264.7" width="18" height="35.3" rx="3"/><text class="t" transform="translate(2168 1282.3) rotate(-90)">Move</text><text class="l" x="2151" y="1273">G</text><text class="l" x="2151" y="1291">T</text><text class="l" x="2186" y="1273">G</text><text class="l" x="2186" y="1291">X</text>

<rect class="n" x="2050.6" y="1306.7" width="48.4" height="21.6" rx="3"/><rect class="c" x="2064" y="1308.7" width="18" height="17.6" rx="3"/><text class="t" transform="translate(2073 1317.5) rotate(-90)">X</text><text class="l" x="2058" y="1317">F</text><text class="l" x="2090" y="1317">V</text>

<rect class="n" x="2829.5" y="1048" width="51.5" height="51.7" rx="3"/><rect class="c" x="2846" y="1050" width="18" height="47.7" rx="3"/><text class="t" transform="translate(2855 1073.8) rotate(-90)">Project</text><text class="l" x="2838" y="1058">P</text><text class="l" x="2838" y="1074">D</text><text class="l" x="2838" y="1089">G</text><text class="l" x="2872" y="1062">P</text><text class="l" x="2872" y="1086">I</text>

<rect class="n" x="2956.5" y="1045.7" width="51.5" height="66.3" rx="3"/><rect class="c" x="2972" y="1047.7" width="18" height="62.3" rx="3"/><text class="t" transform="translate(2981 1078.8) rotate(-90)">Clean</text><text class="l" x="2965" y="1055">N</text><text class="l" x="2965" y="1071">X</text><text class="l" x="2965" y="1086">E</text><text class="l" x="2965" y="1102">T</text><text class="l" x="2998" y="1078">T</text>

<rect class="n" x="3333" y="985.3" width="48" height="49.7" rx="3"/><rect class="c" x="3348" y="987.3" width="18" height="45.7" rx="3"/><text class="t" transform="translate(3357 1010) rotate(-90)">MergeF</text><text class="l" x="3340" y="1010">F</text><text class="l" x="3374" y="1010">F</text>

<rect class="nl" x="3508" y="1053.3" width="53" height="81.7" rx="3"/><rect class="c" x="3526" y="1055.3" width="19" height="77.7" rx="3"/><text class="t" transform="translate(3535.5 1094) rotate(-90)">FLine</text><text class="l" x="3518" y="1063">F</text><text class="l" x="3518" y="1078">P</text><text class="l" x="3518" y="1094">N</text><text class="l" x="3518" y="1110">A</text><text class="l" x="3518" y="1126">M</text><text class="l" x="3551" y="1094">C</text>

<rect class="nl" x="3757" y="1184.7" width="49" height="50.6" rx="3"/><rect class="c" x="3772" y="1186.7" width="18.5" height="46.6" rx="3"/><text class="t" transform="translate(3781.2 1210) rotate(-90)">Pipe</text><text class="l" x="3764.5" y="1194">C</text><text class="l" x="3764.5" y="1210">R</text><text class="l" x="3764.5" y="1226">E</text><text class="l" x="3796" y="1210">P</text>
</g>

<!-- sliders -->
<g id="sliders">
<rect class="sb" x="657" y="1274" width="126" height="15" rx="2.5"/><rect class="sl" x="657" y="1274" width="30" height="15" rx="2.5"/><text class="vm" x="672" y="1281.5">Index</text><line class="tk" x1="691" y1="1279" x2="779" y2="1279"/><text class="v" x="740" y="1281.5" text-anchor="end">4</text><path class="d" d="M747 1279L749.5 1281.5L747 1284L744.5 1281.5Z"/>

<rect class="sb" x="834" y="1295" width="128" height="15" rx="2.5"/><rect class="sl" x="834" y="1295" width="33" height="15" rx="2.5"/><text class="vm" x="850.5" y="1302.5">Factor</text><line class="tk" x1="871" y1="1300" x2="958" y2="1300"/><text class="v" x="909" y="1302.5" text-anchor="end">0.5</text><circle class="k" cx="914" cy="1302.5" r="2.2"/>

<rect class="sb" x="714" y="1430" width="131" height="15" rx="2.5"/><rect class="sl" x="714" y="1430" width="38" height="15" rx="2.5"/><text class="vm" x="733" y="1437.5">Scale X</text><line class="tk" x1="756" y1="1435" x2="841" y2="1435"/><text class="v" x="832" y="1437.5" text-anchor="end">5.00</text><circle class="k" cx="837" cy="1437.5" r="2.2"/>

<rect class="sb" x="708" y="1450" width="130" height="15" rx="2.5"/><rect class="sl" x="708" y="1450" width="37" height="15" rx="2.5"/><text class="vm" x="726.5" y="1457.5">Scale Y</text><line class="tk" x1="749" y1="1455" x2="834" y2="1455"/><text class="v" x="825" y="1457.5" text-anchor="end">5.00</text><circle class="k" cx="830" cy="1457.5" r="2.2"/>

<rect class="sb" x="693" y="1470" width="131" height="15.5" rx="2.5"/><rect class="sl" x="693" y="1470" width="38" height="15.5" rx="2.5"/><text class="vm" x="712" y="1477.8">Scale Z</text><line class="tk" x1="735" y1="1475" x2="820" y2="1475"/><text class="v" x="774" y="1477.8" text-anchor="end">1.06</text><circle class="k" cx="779" cy="1477.8" r="2.2"/>

<rect class="sb" x="891" y="1505.5" width="128" height="15.2" rx="2.5"/><rect class="sl" x="891" y="1505.5" width="34.5" height="15.2" rx="2.5"/><text class="vm" x="908" y="1513">Factor</text><line class="tk" x1="930" y1="1510.5" x2="1015" y2="1510.5"/><text class="v" x="952" y="1513">-83</text><path class="d" d="M946 1510.5L948.5 1513L946 1515.5L943.5 1513Z"/>

<rect class="gb" x="969" y="999" width="138" height="15.5" rx="2.5"/><rect class="gl" x="969" y="999" width="43" height="15.5" rx="2.5"/><text class="vm" x="990.5" y="1006.8">Distance</text><line class="tk" x1="1016" y1="1004" x2="1103" y2="1004" style="stroke:#5fa82a"/><text class="v" x="1053" y="1006.8" text-anchor="end">12</text><path class="d" d="M1059 1004.3L1061.5 1006.8L1059 1009.3L1056.5 1006.8Z"/>

<rect class="sb" x="1425" y="1462" width="139" height="15" rx="2.5"/><rect class="sl" x="1425" y="1462" width="37" height="15" rx="2.5"/><text class="vm" x="1443.5" y="1469.5">Height</text><line class="tk" x1="1466" y1="1467" x2="1560" y2="1467"/><text class="v" x="1551" y="1469.5" text-anchor="end">1.0</text><circle class="k" cx="1556" cy="1469.5" r="2.2"/>

<rect class="sb" x="1524" y="1493" width="139" height="16" rx="2.5"/><rect class="sl" x="1524" y="1493" width="36.5" height="16" rx="2.5"/><text class="vm" x="1542" y="1501">Scale Y</text><line class="tk" x1="1565" y1="1498" x2="1659" y2="1498"/><text class="v" x="1599" y="1501">0.3</text><circle class="k" cx="1594" cy="1501" r="2.2"/>

<rect class="sb" x="1609" y="1537.6" width="128" height="15.4" rx="2.5"/><rect class="sl" x="1609" y="1537.6" width="34" height="15.4" rx="2.5"/><text class="vm" x="1626" y="1545.3">Factor</text><line class="tk" x1="1647" y1="1542.5" x2="1733" y2="1542.5"/><text class="v" x="1702" y="1545.3" text-anchor="end">-5.43</text><circle class="k" cx="1707" cy="1545.3" r="2.2"/>

<rect class="sb" x="1856" y="440" width="175" height="15.3" rx="2.5"/><rect class="sl" x="1856" y="440" width="80.5" height="15.3" rx="2.5"/><text class="vm" x="1896" y="447.6" textLength="71" lengthAdjust="spacingAndGlyphs">LCHARGE LENGTH</text><line class="tk" x1="1941" y1="445" x2="2027" y2="445"/><text class="v" x="1957" y="447.6">5</text><path class="d" d="M1952 445L1954.5 447.6L1952 450.2L1949.5 447.6Z"/>

<rect class="sb" x="1929.5" y="523.7" width="168.5" height="15.3" rx="2.5"/><rect class="sl" x="1929.5" y="523.7" width="68.5" height="15.3" rx="2.5"/><text class="vm" x="1964" y="531.3" textLength="60" lengthAdjust="spacingAndGlyphs">START CHARGE</text><line class="tk" x1="2003" y1="528.5" x2="2094" y2="528.5"/><text class="v" x="2076" y="531.3" text-anchor="end">45.00</text><circle class="k" cx="2081" cy="531.3" r="2.2"/>

<rect class="sb" x="1929" y="561.3" width="157" height="15.4" rx="2.5"/><rect class="sl" x="1929" y="561.3" width="62" height="15.4" rx="2.5"/><text class="vm" x="1960" y="569" textLength="52" lengthAdjust="spacingAndGlyphs">END CHARGE</text><line class="tk" x1="1996" y1="566.3" x2="2082" y2="566.3"/><text class="v" x="2011" y="569">-45.00</text><circle class="k" cx="2006" cy="569" r="2.2"/>

<rect class="sb" x="1846" y="707.7" width="174.5" height="15.3" rx="2.5"/><rect class="sl" x="1846" y="707.7" width="80" height="15.3" rx="2.5"/><text class="vm" x="1886" y="715.3" textLength="71" lengthAdjust="spacingAndGlyphs">LCHARGE LENGTH</text><line class="tk" x1="1931" y1="712.7" x2="2016" y2="712.7"/><text class="v" x="2008" y="715.3" text-anchor="end">50</text><path class="d" d="M2013 712.7L2015.5 715.3L2013 717.9L2010.5 715.3Z"/>

<rect class="sb" x="1732" y="819" width="126" height="15" rx="2.5"/><rect class="sl" x="1732" y="819" width="32" height="15" rx="2.5"/><text class="vm" x="1748" y="826.5">Angle</text><line class="tk" x1="1768" y1="824" x2="1854" y2="824"/><text class="v" x="1795" y="826.5">90</text><path class="d" d="M1790.5 824L1793 826.5L1790.5 829L1788 826.5Z"/>

<rect class="sb" x="1866.5" y="947.6" width="128.5" height="16.4" rx="2.5"/><rect class="sl" x="1866.5" y="947.6" width="33.5" height="16.4" rx="2.5"/><text class="vm" x="1883" y="955.8">Factor</text><line class="tk" x1="1905" y1="953" x2="1991" y2="953"/><text class="v" x="1932" y="955.8">0.50</text><circle class="k" cx="1927" cy="955.8" r="2.2"/>

<rect class="sb" x="1845" y="1099" width="136" height="16" rx="2.5"/><rect class="sl" x="1845" y="1099" width="42.5" height="16" rx="2.5"/><text class="vm" x="1866" y="1107">Distance</text><line class="tk" x1="1892" y1="1104" x2="1977" y2="1104"/><text class="v" x="1900" y="1107">-0.01</text><circle class="k" cx="1895" cy="1107" r="2.2"/>

<rect class="sb" x="1894" y="1316.7" width="128" height="15.3" rx="2.5"/><rect class="sl" x="1894" y="1316.7" width="34" height="15.3" rx="2.5"/><text class="vm" x="1911" y="1324.3">Factor</text><line class="tk" x1="1933" y1="1322" x2="2018" y2="1322"/><text class="v" x="2009" y="1324.3" text-anchor="end">10</text><path class="d" d="M2014 1321.7L2016.5 1324.3L2014 1326.9L2011.5 1324.3Z"/>

<rect class="sb" x="3562.5" y="1211.7" width="130" height="15.6" rx="2.5"/><rect class="sl" x="3562.5" y="1211.7" width="34.5" height="15.6" rx="2.5"/><text class="vm" x="3580" y="1219.5">Radius</text><line class="tk" x1="3601" y1="1217" x2="3688" y2="1217"/><text class="v" x="3678" y="1219.5" text-anchor="end">1.0</text><circle class="k" cx="3683" cy="1219.5" r="2.2"/>

<!-- digit scrollers -->
<rect class="sb" x="2227" y="1247.7" width="94" height="16" rx="2.5"/><rect x="2235" y="1250" width="78" height="11.5" fill="#eee" stroke="#777" stroke-width=".6"/><rect x="2267" y="1250" width="23" height="11.5" fill="#fff" stroke="#444" stroke-width=".8"/><text class="vm" x="2278.5" y="1255.8">0.587</text>
<rect class="sb" x="2228" y="1274.7" width="94" height="15.3" rx="2.5"/><rect x="2236" y="1276.7" width="78" height="11.3" fill="#eee" stroke="#777" stroke-width=".6"/><rect x="2257" y="1276.7" width="23.5" height="11.3" fill="#fff" stroke="#444" stroke-width=".8"/><text class="vm" x="2268.7" y="1282.4">0.409</text>
</g>
</svg>
</body></html>
